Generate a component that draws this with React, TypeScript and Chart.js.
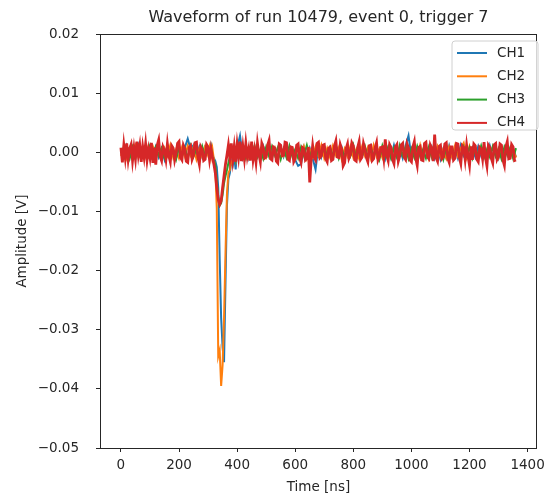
import React, { useEffect, useRef } from "react";
import { Chart, registerables } from "chart.js";

Chart.register(...registerables);

const TITLE = "Waveform of run 10479, event 0, trigger 7";
const X_LABEL = "Time [ns]";
const Y_LABEL = "Amplitude [V]";
const SERIES_NAMES = ["CH1", "CH2", "CH3", "CH4"];
const COLORS = ["#1f77b4", "#ff7f0e", "#2ca02c", "#d62728"];
const LINE_WIDTHS = [2, 2, 2, 2.8];
const X_TICKS = [0, 200, 400, 600, 800, 1000, 1200, 1400];
const Y_TICKS = [-0.05, -0.04, -0.03, -0.02, -0.01, 0.0, 0.01, 0.02];

// sample times (ns) for CH1-CH3
const TIME_NS = [
  0, 10, 20, 30, 40, 50, 60, 70, 80, 90, 100, 110, 120, 130, 140, 150, 160, 170, 180, 190,
  200, 210, 220, 230, 240, 250, 260, 270, 280, 290,
  300, 305, 310, 315, 320, 325, 330, 335, 340, 345, 350, 355, 360, 365, 370, 375, 380, 385, 390, 395, 400,
  410, 420, 430, 440, 450, 460, 470, 480, 490, 500, 510, 520, 530, 540, 550, 560, 570, 580, 590, 600,
  610, 620, 630, 640, 650, 660, 670, 680, 690, 700, 710, 720, 730, 740, 750, 760, 770, 780, 790, 800,
  810, 820, 830, 840, 850, 860, 870, 880, 890, 900, 910, 920, 930, 940, 950, 960, 970, 980, 990, 1000,
  1010, 1020, 1030, 1040, 1050, 1060, 1070, 1080, 1090, 1100, 1110, 1120, 1130, 1140, 1150, 1160, 1170, 1180, 1190, 1200,
  1210, 1220, 1230, 1240, 1250, 1260, 1270, 1280, 1290, 1300, 1310, 1320, 1330, 1340, 1350, 1360,
];

// sample times (ns) for CH4
const TIME_NS_CH4 = [
  0, 5, 10, 15, 20, 25, 30, 35, 40, 45, 50, 55, 60, 65, 70, 75, 80, 85, 90, 95,
  100, 105, 110, 115, 120, 125, 130, 135, 140, 145, 150, 155, 160, 165, 170, 175, 180, 185, 190, 195,
  200, 205, 210, 215, 220, 225, 230, 235, 240, 245, 250, 255, 260, 265, 270, 275, 280, 285, 290, 295,
  300, 305, 310, 315, 320, 325, 330, 335, 340, 345, 350, 355, 360, 365, 370, 375, 380, 385, 390, 395,
  400, 405, 410, 415, 420, 425, 430, 435, 440, 445, 450, 455, 460, 465, 470, 475, 480, 485, 490, 495,
  500, 505, 510, 515, 520, 525, 530, 535, 540, 545, 550, 555, 560, 565, 570, 575, 580, 585, 590, 595,
  600, 605, 610, 615, 620, 625, 630, 635, 640, 645, 650, 655, 660, 665, 670, 675, 680, 685, 690, 695,
  700, 705, 710, 715, 720, 725, 730, 735, 740, 745, 750, 755, 760, 765, 770, 775, 780, 785, 790, 795,
  800, 805, 810, 815, 820, 825, 830, 835, 840, 845, 850, 855, 860, 865, 870, 875, 880, 885, 890, 895,
  900, 905, 910, 915, 920, 925, 930, 935, 940, 945, 950, 955, 960, 965, 970, 975, 980, 985, 990, 995,
  1000, 1005, 1010, 1015, 1020, 1025, 1030, 1035, 1040, 1045, 1050, 1055, 1060, 1065, 1070, 1075, 1080, 1085, 1090, 1095,
  1100, 1105, 1110, 1115, 1120, 1125, 1130, 1135, 1140, 1145, 1150, 1155, 1160, 1165, 1170, 1175, 1180, 1185, 1190, 1195,
  1200, 1205, 1210, 1215, 1220, 1225, 1230, 1235, 1240, 1245, 1250, 1255, 1260, 1265, 1270, 1275, 1280, 1285, 1290, 1295,
  1300, 1305, 1310, 1315, 1320, 1325, 1330, 1335, 1340, 1345, 1350, 1355, 1360,
];

// amplitudes in mV
const CH1_MV = [
  0.5, -0.9, 1.1, -0.4, 0.8, -1.0, 1.2, -0.6, 0.7, -1.1, 0.9, -0.3, 1.0, -0.8, 0.6, -1.2, 1.3, -0.5, 0.4, -0.9,
  1.1, -0.7, 0.8, 2.3, 0.5, 1.2, -0.6, 0.9, -0.8, 1.0,
  0.6, -0.8, 0.9, -0.5, -1.0, -1.5, -2.5, -6.0, -18.0, -28.0, -33.0, -35.5, -22.0, -9.0, -4.5, -3.5, -1.5, -2.2, -0.8, -2.9, 0.7,
  2.8, -0.9, 0.7, -1.0, 1.1, -0.6, 0.8, -1.2, 1.0, -0.5, 1.2, -0.9, 0.6, -1.1, 0.9, -0.7, 1.0, -1.0, 0.5, -1.3,
  -2.3, -2.0, 0.8, -0.9, 0.7, -1.0, -2.9, 1.1, -0.8, 0.9, -1.0, 0.6, -0.9, 1.2, -0.6, 0.8, -1.1, 1.0, -0.5, 0.7,
  -1.0, 1.1, -0.7, 0.5, -1.2, 0.9, -0.8, 1.0, -0.6, 0.8, -1.1, 0.7, -0.9, 1.2, -0.7, 0.6, -1.0, 1.1, 2.8, -0.9,
  1.0, -0.8, 0.7, -1.1, 1.0, -0.6, 0.9, -1.0, 0.8, -1.2, 0.6, -0.9, 1.1, -0.7, 0.8, -1.0, 1.2, -0.5, 0.9, -1.1,
  0.7, -0.8, 1.0, -0.6, 0.9, -1.2, 1.1, -0.7, 0.6, -1.0, 0.8, -0.9, 1.0, -0.6, 0.7, -0.8,
];

const CH2_MV = [
  -0.6, 0.9, -1.0, 0.7, -0.5, 1.1, -0.8, 0.6, -1.2, 0.8, -0.7, 1.0, -0.4, 0.9, -1.1, 0.7, -0.6, 1.2, -0.9, 0.5,
  -1.0, 0.8, -0.7, 1.1, -0.5, 0.9, -1.2, 0.6, -0.8, 1.0,
  -0.5, 0.8, -0.9, 0.6, -1.2, -2.8, -9.5, -34.5, -33.5, -39.5, -36.0, -28.0, -17.0, -7.0, -3.5, -3.0, -1.5, -1.6, -0.5, -1.4, 0.6,
  0.8, -1.0, 0.6, -0.9, 1.1, -0.7, 0.9, -1.1, 0.5, -0.8, 1.0, -0.6, 0.7, -1.2, 0.9, -0.5, 1.1, -0.9, 0.6, -1.0,
  0.8, -0.7, 1.0, -1.1, 0.5, -0.8, 0.9, -0.6, 1.2, -1.0, 0.7, -0.9, 1.1, -0.5, 0.8, -1.2, 0.6, -0.7, 1.0, -0.9,
  0.5, -1.1, 0.9, -0.6, 0.8, -1.0, 1.2, -0.7, 0.6, -0.9, 1.0, -0.8, 0.7, -1.1, 0.9, -0.5, 1.1, -1.0, 0.6, -0.8,
  0.9, -0.6, 1.2, -0.9, 0.7, -1.1, 0.8, -0.5, 1.0, -0.7, 0.6, -1.0, 0.9, -0.8, 1.1, -0.6, 0.7, 1.6, -0.9, 1.0,
  -0.7, 0.8, -1.1, 0.5, 0.9, -1.0, 0.6, -0.8, 1.1, -0.9, 0.7, -0.6, 1.0, -0.8, 0.5, -0.9,
];

const CH3_MV = [
  0.7, -0.8, 0.5, -1.1, 0.9, -0.6, 1.0, -0.9, 0.6, -0.7, 1.1, -1.0, 0.8, -0.5, 0.7, -0.9, 1.0, -0.8, 0.5, -1.2,
  0.9, -0.6, 0.7, -1.0, 1.1, -0.7, 0.6, -0.9, 1.0, -0.8,
  0.6, -0.7, 0.8, -0.9, -1.4, -2.2, -5.0, -7.5, -9.0, -8.6, -7.2, -5.2, -4.0, -3.0, -1.8, -0.8, 0.5, -0.9, 0.7, -1.0, 0.8,
  -0.9, 0.7, -1.0, 0.8, -0.6, 1.1, -0.8, 0.5, -1.1, 0.9, -0.7, 1.0, -0.5, 0.8, -1.2, 0.6, -0.9, 1.1, -0.7, 0.5,
  -1.0, 0.9, -0.6, 1.2, -0.8, 0.7, -1.1, 0.6, -0.5, 1.0, -0.9, 0.8, -0.7, 1.1, -1.0, 0.6, -0.8, 0.9, -0.6, 1.2,
  -1.1, 0.7, -0.5, 1.0, -0.9, 0.8, -0.7, 0.6, -1.2, 1.1, -0.6, 0.9, -1.0, 0.7, -0.8, 1.2, -0.5, 0.8, -1.1, 0.6,
  -0.9, 1.0, -0.7, 0.5, -1.0, 0.9, -0.8, 1.1, -0.6, 0.7, -1.2, 0.8, -0.9, 0.6, -0.7, 1.0, -1.1, 0.9, -0.5, 0.8,
  -1.0, 0.7, -0.6, 1.1, -0.9, 0.5, -0.8, 1.0, -0.7, 0.6, -1.1, 0.9, -0.5, 0.8, -1.0, 0.7,
];

const CH4_MV = [
  0.8, -1.7, 1.2, -0.9, 1.5, -1.2, 0.6, 1.3, -1.4, 0.7, -1.1, 1.8, -0.5, 1.1, -1.6, 0.9, -0.8, 1.4, -1.3, 0.5,
  -0.9, 1.6, -1.8, 0.8, -2.1, 1.2, 2.1, -0.7, -1.4, 0.9, 0.3, -1.2, 1.4, -0.6, -1.6, 1.1, 0.7, -1.3, -0.2, 1.5,
  1.8, -0.9, -1.3, 1.2, 0.6, -1.5, -1.7, 0.8, 1.1, -1.2, -0.5, 1.6, 1.7, -0.8, -2.0, 0.9, 0.4, -1.4, -1.2, 1.3,
  0.9, -1.2, 0.6, -0.8, -2.0, -3.5, -6.0, -8.0, -8.8, -8.2, -6.0, -4.0, -2.0, -0.5, 1.2, -1.0, 1.5, -1.2, 0.9, -1.6,
  1.3, -0.7, 1.8, -1.5, 0.9, -1.1, 1.5, -0.7, 0.6, -1.4, 1.8, -1.2, 0.4, -1.6, 1.5, -0.3, -1.6, 1.5, 0.8, -1.0,
  -0.8, 1.2, 2.0, -1.1, -1.3, 0.9, 0.7, -1.5, -1.8, 1.4, 1.2, -0.6, -0.5, 1.7, 1.6, -1.2, -1.4, 0.9, 0.8, -1.6,
  -1.1, 1.2, 1.4, -0.9, -1.7, 0.8, 0.6, -1.3, -1.0, 0.9, -5.1, -1.2, 1.1, -0.8, -1.3, 1.5, 1.7, -0.9, -0.6, 1.2,
  1.3, -1.1, -1.6, 0.7, 0.9, -1.4, -1.2, 1.0, 1.9, -0.8, -0.9, 1.3, 0.5, -2.3, -1.8, 0.6, 1.4, -1.0, -0.4, 1.6,
  1.1, -1.3, -1.5, 0.8, 1.8, -1.2, -0.8, 1.5, 0.6, -0.9, -1.6, 1.1, 1.2, -1.4, -1.1, 0.7, 1.6, -1.3, -0.7, 0.8,
  0.9, -1.0, 2.2, -0.5, -1.4, 1.3, 0.8, -1.2, -1.9, 0.9, 1.3, -1.5, -0.6, 1.2, 1.5, -0.8, -1.2, 1.4, 0.7, -1.3,
  -1.6, 0.9, 1.8, -1.0, -2.2, 0.8, 1.0, -1.3, -1.4, 1.5, 1.7, -0.8, -1.1, 1.2, 0.6, -1.5, 3.0, -0.9, -1.5, 1.0,
  1.2, -1.1, -0.8, 1.4, 1.6, -1.0, -1.7, 0.9, 0.9, -1.3, -1.0, 1.5, 1.4, -0.9, -1.9, 1.1, 0.8, -1.2, 1.2, -0.7,
  -2.2, 1.0, -1.3, 1.4, 1.1, -1.2, -1.6, 0.8, 0.5, -1.1, 1.7, -0.9, -2.3, 1.2, 0.8, -1.0, -1.8, 1.3, 1.5, -1.2,
  -0.7, 1.4, 1.2, -1.3, -2.2, 0.9, 1.8, -1.1, -1.0, 1.3, 0.9, -1.4, -1.3,
];

const SERIES_TIMES = [TIME_NS, TIME_NS, TIME_NS, TIME_NS_CH4];
const SERIES_MV = [CH1_MV, CH2_MV, CH3_MV, CH4_MV];

const FONT = "'DejaVu Sans', 'Liberation Sans', sans-serif";
const TEXT_COLOR = "#262626";

function fmtY(v: number): string {
  const s = Math.abs(v).toFixed(2);
  return v < -1e-9 ? "\u2212" + s : s;
}

const decorPlugin = {
  id: "decor",
  afterDraw(chart: any) {
    const { ctx, chartArea } = chart;
    const { left, right, top, bottom } = chartArea;
    ctx.save();
    ctx.strokeStyle = "#262626";
    ctx.lineWidth = 1;
    ctx.strokeRect(Math.round(left) + 0.5, Math.round(top) + 0.5, Math.round(right - left) - 1, Math.round(bottom - top));

    ctx.fillStyle = TEXT_COLOR;
    ctx.font = `16px ${FONT}`;
    ctx.textAlign = "center";
    ctx.textBaseline = "middle";
    ctx.fillText(TITLE, (left + right) / 2, 18);

    ctx.font = `13.5px ${FONT}`;
    ctx.fillText(X_LABEL, (left + right) / 2, 487);
    ctx.save();
    ctx.translate(22, (top + bottom) / 2);
    ctx.rotate(-Math.PI / 2);
    ctx.fillText(Y_LABEL, 0, 0);
    ctx.restore();

    const bx = 452, by = 41, bw = 86, bh = 89, r = 3;
    ctx.globalAlpha = 0.8;
    ctx.fillStyle = "#ffffff";
    ctx.beginPath();
    ctx.moveTo(bx + r, by);
    ctx.lineTo(bx + bw - r, by);
    ctx.arcTo(bx + bw, by, bx + bw, by + r, r);
    ctx.lineTo(bx + bw, by + bh - r);
    ctx.arcTo(bx + bw, by + bh, bx + bw - r, by + bh, r);
    ctx.lineTo(bx + r, by + bh);
    ctx.arcTo(bx, by + bh, bx, by + bh - r, r);
    ctx.lineTo(bx, by + r);
    ctx.arcTo(bx, by, bx + r, by, r);
    ctx.closePath();
    ctx.fill();
    ctx.globalAlpha = 1;
    ctx.strokeStyle = "#d0d0d0";
    ctx.lineWidth = 1;
    ctx.stroke();

    ctx.font = `13.5px ${FONT}`;
    ctx.textAlign = "left";
    ctx.textBaseline = "middle";
    SERIES_NAMES.forEach((name, i) => {
      const y = 53 + i * 23.3;
      ctx.strokeStyle = COLORS[i];
      ctx.lineWidth = 2;
      ctx.beginPath();
      ctx.moveTo(457, y);
      ctx.lineTo(487, y);
      ctx.stroke();
      ctx.fillStyle = TEXT_COLOR;
      ctx.fillText(name, 497, y);
    });
    ctx.restore();
  },
};

export default function App() {
  const ref = useRef<HTMLCanvasElement | null>(null);

  useEffect(() => {
    document.body.style.margin = "0";
    const canvas = ref.current;
    if (!canvas) return;
    const datasets = SERIES_MV.map((vals, k) => ({
      label: SERIES_NAMES[k],
      data: SERIES_TIMES[k].map((t, i) => ({ x: t, y: vals[i] / 1000 })),
      borderColor: COLORS[k],
      backgroundColor: COLORS[k],
      borderWidth: LINE_WIDTHS[k],
      pointRadius: 0,
      tension: 0,
      fill: false,
      order: SERIES_NAMES.length - 1 - k,
    }));
    const chart = new Chart(canvas, {
      type: "line",
      data: { datasets },
      options: {
        responsive: false,
        animation: false,
        devicePixelRatio: 1,
        layout: { padding: { top: 34, right: 10, left: 0, bottom: 0 } },
        plugins: {
          legend: { display: false },
          title: { display: false },
          tooltip: { enabled: false },
        },
        scales: {
          x: {
            type: "linear",
            min: -72,
            max: 1432,
            afterFit: (s: any) => {
              s.height = 49;
            },
            afterBuildTicks: (s: any) => {
              s.ticks = X_TICKS.map((v) => ({ value: v }));
            },
            grid: {
              display: true,
              drawOnChartArea: false,
              drawTicks: true,
              tickLength: 4,
              color: "#262626",
              tickColor: "#262626",
            },
            border: { display: false },
            ticks: {
              autoSkip: false,
              maxRotation: 0,
              padding: 5,
              color: TEXT_COLOR,
              font: { family: FONT, size: 13.5 },
              callback: (v: any) => String(v),
            },
          },
          y: {
            type: "linear",
            min: -0.05,
            max: 0.02,
            afterFit: (s: any) => {
              s.width = 100;
            },
            afterBuildTicks: (s: any) => {
              s.ticks = Y_TICKS.map((v) => ({ value: v }));
            },
            grid: {
              display: true,
              drawOnChartArea: false,
              drawTicks: true,
              tickLength: 4,
              color: "#262626",
              tickColor: "#262626",
            },
            border: { display: false },
            ticks: {
              autoSkip: false,
              padding: 17,
              color: TEXT_COLOR,
              font: { family: FONT, size: 13.5 },
              callback: (v: any) => fmtY(Number(v)),
            },
          },
        },
      },
      plugins: [decorPlugin],
    } as any);
    return () => chart.destroy();
  }, []);

  return (
    <div style={{ width: 550, height: 497, background: "#fff" }}>
      <canvas ref={ref} width={550} height={497} style={{ display: "block", width: 550, height: 497 }} />
    </div>
  );
}
